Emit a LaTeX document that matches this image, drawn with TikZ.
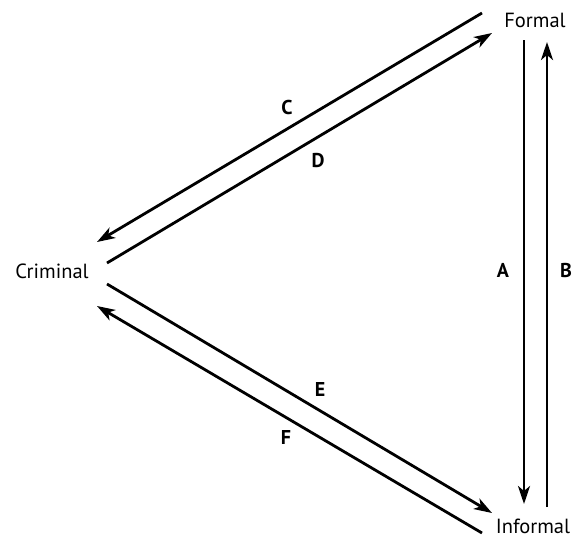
\documentclass[tikz,border=0pt]{standalone}
\usepackage{fontspec}
\setmainfont{PT Sans}
\usetikzlibrary{arrows.meta}
\begin{document}
\begin{tikzpicture}[x=1pt,y=-1pt,
  place/.style={font=\fontsize{20.5}{24}\selectfont, inner sep=0pt},
  lab/.style={font=\fontsize{20}{24}\selectfont\bfseries, inner sep=0pt},
  conn/.style={line width=2.8pt, -{Stealth[length=18pt,width=12pt,inset=5pt]}}]
\useasboundingbox (0,0) rectangle (573,539);
\node[place] (formal) at (535,20) {Formal};
\node[place] (criminal) at (52,271) {Criminal};
\node[place] (informal) at (533,526) {Informal};
% endpoints
\coordinate (c1) at (482,13);
\coordinate (c2) at (97,242);
\coordinate (d1) at (107,263);
\coordinate (d2) at (492,33);
\coordinate (a1) at (524,40);
\coordinate (a2) at (524,504);
\coordinate (b1) at (547,507);
\coordinate (b2) at (547,42);
\coordinate (e1) at (107,284);
\coordinate (e2) at (492,513);
\coordinate (f1) at (482,533);
\coordinate (f2) at (97,306);
\draw[conn] (c1) -- (c2);
\draw[conn] (d1) -- (d2);
\draw[conn] (a1) -- (a2);
\draw[conn] (b1) -- (b2);
\draw[conn] (e1) -- (e2);
\draw[conn] (f1) -- (f2);
\node[lab] (lC) at (287,107) {C};
\node[lab] (lD) at (318,161) {D};
\node[lab] (lE) at (320,389) {E};
\node[lab] (lF) at (286,437) {F};
\node[lab] (lA) at (503,270) {A};
\node[lab] (lB) at (566,270) {B};
\end{tikzpicture}
\end{document}
